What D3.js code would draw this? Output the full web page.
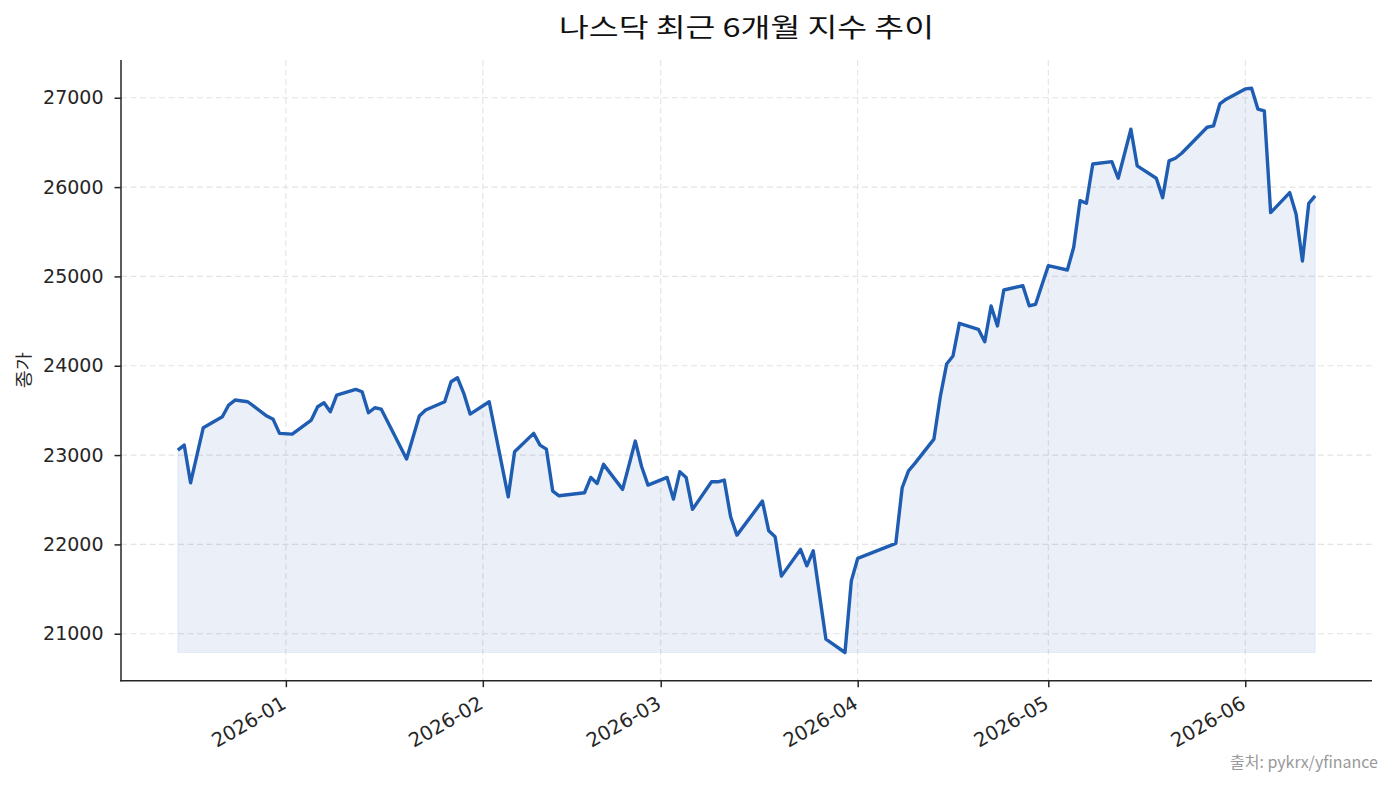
<!DOCTYPE html>
<html>
<head>
<meta charset="utf-8">
<script src="https://cdn.jsdelivr.net/npm/d3@7/dist/d3.min.js"></script>
<style>
  html, body { margin: 0; padding: 0; background: #fff; }
</style>
</head>
<body>
<svg id="chart" width="1393" height="786"></svg>
<script>
const titleText = "나스닥 최근 6개월 지수 추이";
const yLabelText = "종가";
const sourceText = "출처: pykrx/yfinance";

const dates = [
  "2025-12-15","2025-12-16","2025-12-17","2025-12-19","2025-12-22","2025-12-23","2025-12-24","2025-12-26",
  "2025-12-29","2025-12-30","2025-12-31","2026-01-02","2026-01-05","2026-01-06","2026-01-07","2026-01-08",
  "2026-01-09","2026-01-12","2026-01-13","2026-01-14","2026-01-15","2026-01-16","2026-01-20","2026-01-22",
  "2026-01-23","2026-01-26","2026-01-27","2026-01-28","2026-01-29","2026-01-30","2026-02-02","2026-02-05",
  "2026-02-06","2026-02-09","2026-02-10","2026-02-11","2026-02-12","2026-02-13","2026-02-17","2026-02-18",
  "2026-02-19","2026-02-20","2026-02-23","2026-02-25","2026-02-26","2026-02-27","2026-03-02","2026-03-03",
  "2026-03-04","2026-03-05","2026-03-06","2026-03-09","2026-03-10","2026-03-11","2026-03-12","2026-03-13",
  "2026-03-17","2026-03-18","2026-03-19","2026-03-20","2026-03-23","2026-03-24","2026-03-25","2026-03-27",
  "2026-03-30","2026-03-31","2026-04-01","2026-04-07","2026-04-08","2026-04-09","2026-04-10","2026-04-13",
  "2026-04-14","2026-04-15","2026-04-16","2026-04-17","2026-04-20","2026-04-21","2026-04-22","2026-04-23",
  "2026-04-24","2026-04-27","2026-04-28","2026-04-29","2026-05-01","2026-05-04","2026-05-05","2026-05-06",
  "2026-05-07","2026-05-08","2026-05-11","2026-05-12","2026-05-14","2026-05-15","2026-05-18","2026-05-19",
  "2026-05-20","2026-05-21","2026-05-22","2026-05-26","2026-05-27","2026-05-28","2026-05-29","2026-06-01",
  "2026-06-02","2026-06-03","2026-06-04","2026-06-05","2026-06-08","2026-06-09","2026-06-10","2026-06-11",
  "2026-06-12"
];

const closes = [
  23056,23112,22690,23306,23429,23560,23616,23597,
  23437,23400,23243,23235,23392,23541,23586,23485,
  23672,23736,23709,23474,23530,23515,22955,23437,
  23504,23597,23821,23866,23691,23459,23597,22533,
  23037,23243,23112,23067,22597,22544,22578,22750,
  22683,22896,22616,23157,22869,22664,22750,22507,
  22813,22750,22392,22701,22701,22720,22309,22104,
  22485,22152,22085,21645,21944,21760,21928,20939,
  20790,21592,21843,22011,22634,22824,22907,23179,
  23653,24019,24109,24475,24408,24269,24669,24445,
  24848,24896,24672,24688,25120,25072,25326,25848,
  25819,26259,26285,26099,26648,26237,26099,25882,
  26293,26323,26379,26670,26685,26931,26984,27099,
  27107,26872,26853,25714,25938,25699,25173,25819,
  25901
];

const yTicks = [21000, 22000, 23000, 24000, 25000, 26000, 27000];
const xTickLabels = ["2026-01","2026-02","2026-03","2026-04","2026-05","2026-06"];

const parse = d3.timeParse("%Y-%m-%d");
const parseMonth = d3.timeParse("%Y-%m");
const data = dates.map((d, i) => ({ date: parse(d), value: closes[i] }));
const xTickDates = xTickLabels.map(parseMonth);

const lineColor = "#1f5db3";
const inkColor = "#262626";
const latinFont = "'DejaVu Sans', 'Noto Sans CJK KR', sans-serif";
const krFont = "'Noto Sans CJK KR', 'Noto Sans', sans-serif";

const margin = { left: 121, right: 1372, top: 60, bottom: 680.7 };

const svg = d3.select("#chart");

const xExt = d3.extent(data, d => d.date);
const xSpan = xExt[1] - xExt[0];
const x = d3.scaleTime()
  .domain([new Date(+xExt[0] - xSpan * 0.05), new Date(+xExt[1] + xSpan * 0.05)])
  .range([margin.left, margin.right]);

const yMin = d3.min(closes), yMax = d3.max(closes);
const ySpan = yMax - yMin;
const y = d3.scaleLinear()
  .domain([yMin - ySpan * 0.05, yMax + ySpan * 0.05])
  .range([margin.bottom, margin.top]);

// grid
const grid = svg.append("g");
grid.selectAll("line.gy").data(yTicks).enter().append("line")
  .attr("x1", margin.left).attr("x2", margin.right)
  .attr("y1", d => y(d)).attr("y2", d => y(d))
  .attr("stroke", "#e3e3e3").attr("stroke-width", 1.1)
  .attr("stroke-dasharray", "6,3.5");
grid.selectAll("line.gx").data(xTickDates).enter().append("line")
  .attr("x1", d => x(d)).attr("x2", d => x(d))
  .attr("y1", margin.top).attr("y2", margin.bottom)
  .attr("stroke", "#e3e3e3").attr("stroke-width", 1.1)
  .attr("stroke-dasharray", "6,3.5");

// fill
const area = d3.area()
  .x(d => x(d.date))
  .y0(y(yMin))
  .y1(d => y(d.value));
svg.append("path").datum(data)
  .attr("d", area)
  .attr("fill", lineColor).attr("fill-opacity", 0.09)
  .attr("stroke", lineColor).attr("stroke-opacity", 0.08).attr("stroke-width", 1.2);

// line
const line = d3.line().x(d => x(d.date)).y(d => y(d.value));
svg.append("path").datum(data)
  .attr("d", line)
  .attr("fill", "none")
  .attr("stroke", lineColor)
  .attr("stroke-width", 3.4)
  .attr("stroke-linejoin", "round")
  .attr("stroke-linecap", "butt");

// y axis
const yAxis = d3.axisLeft(y).tickValues(yTicks).tickSize(6.5).tickPadding(11).tickFormat(d3.format("d"));
const gy = svg.append("g").attr("transform", `translate(${margin.left},0)`).call(yAxis);
gy.select(".domain").remove();
gy.selectAll(".tick line").attr("stroke", inkColor).attr("stroke-width", 1.5);
gy.selectAll(".tick text").attr("fill", inkColor).attr("font-size", 19)
  .attr("font-family", latinFont);

// x axis
const xAxis = d3.axisBottom(x).tickValues(xTickDates).tickSize(6.5).tickFormat((d, i) => xTickLabels[i]);
const gx = svg.append("g").attr("transform", `translate(0,${margin.bottom})`).call(xAxis);
gx.select(".domain").remove();
gx.selectAll(".tick line").attr("stroke", inkColor).attr("stroke-width", 1.5);
gx.selectAll(".tick text")
  .attr("fill", inkColor).attr("font-size", 19.6)
  .attr("font-family", latinFont)
  .attr("text-anchor", "end")
  .attr("dy", null)
  .attr("dominant-baseline", "hanging")
  .attr("x", -6).attr("y", 14)
  .attr("transform", "rotate(-30, -6, 14)");

// spines
svg.append("line").attr("x1", margin.left).attr("x2", margin.left)
  .attr("y1", margin.top).attr("y2", margin.bottom + 0.75)
  .attr("stroke", inkColor).attr("stroke-width", 1.5);
svg.append("line").attr("x1", margin.left - 0.75).attr("x2", margin.right)
  .attr("y1", margin.bottom).attr("y2", margin.bottom)
  .attr("stroke", inkColor).attr("stroke-width", 1.5);

// title
svg.append("text").attr("x", (margin.left + margin.right) / 2).attr("y", 37)
  .attr("text-anchor", "middle").attr("font-size", 26).attr("fill", "#111")
  .attr("font-family", krFont)
  .attr("textLength", 375).attr("lengthAdjust", "spacingAndGlyphs")
  .text(titleText);

// y label
svg.append("text")
  .attr("transform", `translate(30, ${(margin.top + margin.bottom) / 2}) rotate(-90)`)
  .attr("text-anchor", "middle").attr("font-size", 17.5).attr("fill", inkColor)
  .attr("font-family", krFont)
  .attr("textLength", 36).attr("lengthAdjust", "spacingAndGlyphs")
  .text(yLabelText);

// source
svg.append("text").attr("x", 1378).attr("y", 768)
  .attr("text-anchor", "end").attr("font-size", 16).attr("fill", "#999")
  .attr("font-family", krFont)
  .text(sourceText);
</script>
</body>
</html>
